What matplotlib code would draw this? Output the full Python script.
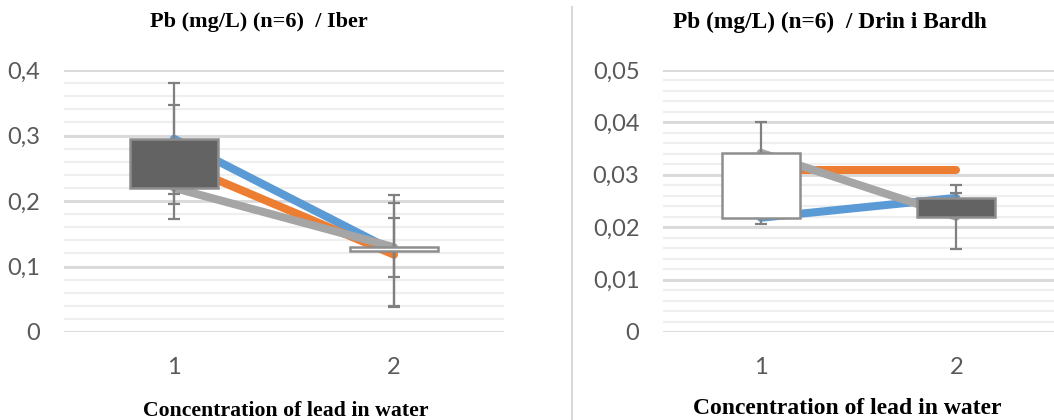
import matplotlib
matplotlib.use("Agg")
import matplotlib.pyplot as plt
from matplotlib.lines import Line2D

categories = [1, 2]

# Iber
iber_blue = [0.295, 0.1235]
iber_orange = [0.260, 0.118]
iber_gray = [0.220, 0.1295]
iber_blue_err = [0.085, 0.0855]
iber_orange_err = [0.087, 0.079]
iber_gray_err = [0.025, 0.045]
iber_yticks = [0, 0.1, 0.2, 0.3, 0.4]
iber_yticklabels = ["0", "0,1", "0,2", "0,3", "0,4"]

# Drin i Bardh
drin_blue = [0.0218, 0.0256]
drin_orange = [0.0310, 0.0310]
drin_gray = [0.0342, 0.0220]
drin_blue_err = [0.0012, 0.0010]
drin_orange_err = [0.0, 0.0]
drin_gray_err = [0.0058, 0.0061]
drin_yticks = [0, 0.01, 0.02, 0.03, 0.04, 0.05]
drin_yticklabels = ["0", "0,01", "0,02", "0,03", "0,04", "0,05"]

xlabel = "Concentration of lead in water"
colors = ["#5B9BD5", "#ED7D31", "#A5A5A5"]


def draw_panel(ax, series, errs, yticks, yticklabels, minor_step):
    top = yticks[-1]
    # gridlines
    n_minor = int(round(top / minor_step))
    for i in range(n_minor + 1):
        ax.axhline(i * minor_step, color="#efefef", lw=1.6, zorder=0)
    for y in yticks:
        ax.axhline(y, color="#d9d9d9", lw=2.0, zorder=0.5)

    for vals, c in zip(series, colors):
        ax.plot(categories, vals, color=c, lw=5.8, solid_capstyle="round", zorder=2)

    for vals, err in zip(series, errs):
        if max(err) > 0:
            ax.errorbar(categories, vals, yerr=err, fmt="none", ecolor="#808080",
                        elinewidth=1.6, capsize=4.5, capthick=1.6, zorder=3)

    # up/down bars between first and last series
    first, last = series[0], series[-1]
    for x, a, b in zip(categories, first, last):
        fill = "#636363" if a > b else "white"
        ax.bar(x, abs(b - a), bottom=min(a, b), width=0.4, color=fill,
               edgecolor="#8e8e8e", linewidth=1.8, zorder=4)

    ax.set_xlim(0.5, 2.5)
    ax.set_ylim(0, top)
    ax.set_yticks(yticks)
    ax.set_yticklabels(yticklabels)
    ax.set_xticks(categories)
    ax.set_xticklabels([str(c) for c in categories])
    for s in ax.spines.values():
        s.set_visible(False)
    ax.tick_params(length=0, labelsize=17, labelcolor="#595959")
    ax.tick_params(axis="x", pad=18)
    ax.tick_params(axis="y", pad=17)
    for lab in ax.get_xticklabels() + ax.get_yticklabels():
        lab.set_family("Lato")


fig = plt.figure(figsize=(10.54, 4.2), dpi=100)
W, H = 1054, 420

ax1 = fig.add_axes([64 / W, (H - 332) / H, 440 / W, 262 / H])
draw_panel(ax1, [iber_blue, iber_orange, iber_gray],
           [iber_blue_err, iber_orange_err, iber_gray_err],
           iber_yticks, iber_yticklabels, 0.02)

ax2 = fig.add_axes([663 / W, (H - 332) / H, 391 / W, 262 / H])
draw_panel(ax2, [drin_blue, drin_orange, drin_gray],
           [drin_blue_err, drin_orange_err, drin_gray_err],
           drin_yticks, drin_yticklabels, 0.002)

fig.text(259 / W, (H - 27) / H, "Pb (mg/L) (n=6)  / Iber", ha="center", va="baseline",
         family="Liberation Serif", weight="bold", fontsize=16)
fig.text(830 / W, (H - 28) / H, "Pb (mg/L) (n=6)  / Drin i Bardh", ha="center", va="baseline",
         family="Liberation Serif", weight="bold", fontsize=16.8)
fig.text(286 / W, (H - 416) / H, xlabel, ha="center", va="baseline",
         family="Liberation Serif", weight="bold", fontsize=15.7)
fig.text(847 / W, (H - 414) / H, xlabel, ha="center", va="baseline",
         family="Liberation Serif", weight="bold", fontsize=17)

fig.add_artist(Line2D([572 / W, 572 / W], [0, (H - 7) / H], color="#d9d9d9", lw=1.5))

fig.savefig("out.png", dpi=100)
